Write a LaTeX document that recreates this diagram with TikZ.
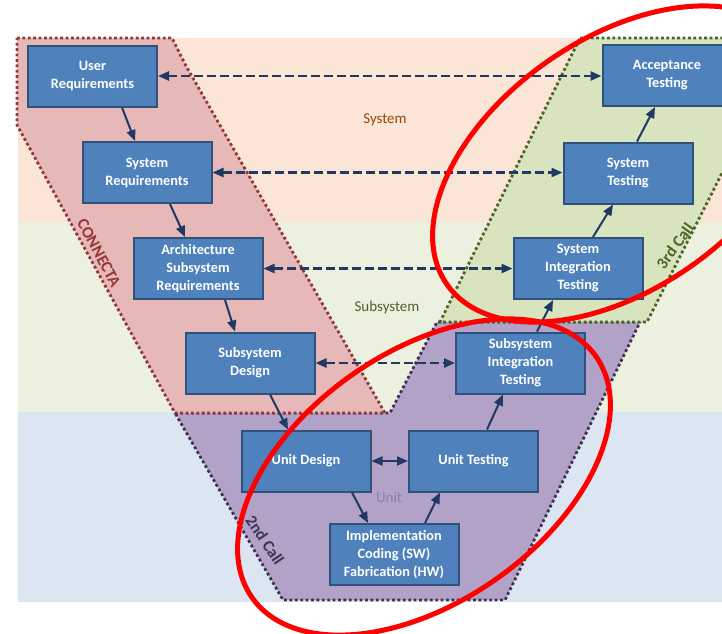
\documentclass[tikz,border=0pt]{standalone}
\usepackage{fontspec}
\setmainfont{Carlito}
\usetikzlibrary{arrows.meta}
\definecolor{peach}{HTML}{FBE5D6}
\definecolor{lgreen}{HTML}{EBF1DE}
\definecolor{lblue}{HTML}{DCE6F2}
\definecolor{pinkfill}{HTML}{E6B9B8}
\definecolor{purfill}{HTML}{B3A2C7}
\definecolor{grnfill}{HTML}{D7E4BD}
\definecolor{pinkline}{HTML}{953735}
\definecolor{grnline}{HTML}{4F6228}
\definecolor{purline}{HTML}{403151}
\definecolor{boxfill}{HTML}{4F81BD}
\definecolor{boxline}{HTML}{30527A}
\definecolor{arrowc}{HTML}{1F3864}
\definecolor{sysc}{HTML}{984807}
\definecolor{unitc}{HTML}{8C7FA8}
\tikzset{
  stepbox/.style={draw=boxline, fill=boxfill, line width=2pt, minimum width=129pt,
    minimum height=61pt, text=white, font=\bfseries\fontsize{14.3}{18}\selectfont,
    align=center, inner sep=0pt},
  arr/.style={draw=arrowc, line width=2pt, -{Triangle[length=11pt,width=9pt]}},
  darr/.style={draw=arrowc, line width=2.4pt, dash pattern=on 9pt off 4pt,
    {Triangle[length=11pt,width=9pt]}-{Triangle[length=11pt,width=9pt]}},
  dotline/.style={line width=2.8pt, dash pattern=on 2.8pt off 2.6pt},
  lvl/.style={font=\fontsize{15}{17}\selectfont},
  callc/.style={font=\bfseries\fontsize{16.5}{18}\selectfont},
  ring/.style={draw=red, line width=5pt}
}
\begin{document}
\begin{tikzpicture}[x=1pt,y=-1pt]
\useasboundingbox (0,0) rectangle (722,633);
\clip (0,0) rectangle (722,633);
\fill[white] (0,0) rectangle (722,633);
% bands
\fill[peach] (18,38) rectangle (722,222);
\fill[lgreen] (18,222) rectangle (722,412);
\fill[lblue] (18,412) rectangle (722,602);
% regions
\fill[purfill] (175,413) -- (390,413) -- (437,322) -- (640,322) -- (505,600) -- (283,600) -- cycle;
\draw[purline,dotline] (175,413) -- (390,413) -- (437,322) -- (640,322) -- (505,600) -- (283,600) -- cycle;
\fill[grnfill] (580,38) -- (790,38) -- (647,322) -- (440,322) -- cycle;
\draw[grnline,dotline] (580,38) -- (790,38) -- (647,322) -- (440,322) -- cycle;
\fill[pinkfill] (17,38) -- (172,38) -- (186,66) -- (385,413) -- (175,413) -- (17,125) -- cycle;
\draw[pinkline,dotline] (17,38) -- (172,38) -- (186,66) -- (385,413) -- (175,413) -- (17,125) -- cycle;
% labels
\node[lvl,text=sysc] (lsys) at (385,120) {System};
\node[lvl,text=grnline] (lsub) at (387,307) {Subsystem};
\node[lvl,text=unitc] (lunit) at (389,497) {Unit};
\node[callc,text=pinkline,rotate=-62] (lcon) at (99,253) {CONNECTA};
\node[callc,text=purline,rotate=-56] (l2nd) at (265,540) {2nd Call};
\node[callc,text=grnline,rotate=54] (l3rd) at (675,246) {3rd Call};
% boxes
\node[stepbox] (ur) at (92.5,76) {User\\Requirements};
\node[stepbox] (sr) at (147,172.5) {System\\Requirements};
\node[stepbox] (ar) at (198,268.5) {Architecture\\Subsystem\\Requirements};
\node[stepbox] (sd) at (250,363) {Subsystem\\Design};
\node[stepbox] (ud) at (306,461) {Unit Design};
\node[stepbox] (ut) at (473.5,461) {Unit Testing};
\node[stepbox] (im) at (394,554.5) {Implementation\\Coding (SW)\\Fabrication (HW)};
\node[stepbox] (sit) at (520.5,363) {Subsystem\\Integration\\Testing};
\node[stepbox] (syit) at (578,268.5) {System\\Integration\\Testing};
\node[stepbox] (st) at (628,173) {System\\Testing};
\node[stepbox] (at) at (667,75.5) {Acceptance\\Testing};
% solid arrows
\draw[arr] ([xshift=29.5pt]ur.south) -- ([xshift=-12pt]sr.north);
\draw[arr] ([xshift=23pt]sr.south) -- ([xshift=-13pt]ar.north);
\draw[arr] ([xshift=27pt]ar.south) -- ([xshift=-15pt]sd.north);
\draw[arr] ([xshift=20pt]sd.south) -- ([xshift=-18pt]ud.north);
\draw[arr] ([xshift=46pt]ud.south) -- ([xshift=-26pt]im.north);
\draw[arr] ([xshift=31pt]im.north) -- ([xshift=-33.5pt]ut.south);
\draw[arr] ([xshift=13.5pt]ut.north) -- ([xshift=-17.5pt]sit.south);
\draw[arr] ([xshift=16.5pt]sit.north) -- ([xshift=-25pt]syit.south);
\draw[arr] ([xshift=15pt]syit.north) -- ([xshift=-15pt]st.south);
\draw[arr] ([xshift=9pt]st.north) -- ([xshift=-12pt]at.south);
% dashed links
\draw[darr] (ur.east) -- (ur.east -| at.west);
\draw[darr] (sr.east) -- (sr.east -| st.west);
\draw[darr] (ar.east) -- (ar.east -| syit.west);
\draw[darr] (sd.east) -- (sd.east -| sit.west);
\draw[draw=arrowc, line width=2pt, {Triangle[length=11pt,width=9pt]}-{Triangle[length=11pt,width=9pt]}] (ud.east) -- (ut.west);
% red rings
\draw[ring, rotate around={35:(619,164)}] (619,164) ellipse [x radius=210, y radius=125];
\draw[ring, rotate around={35:(424,477)}] (424,477) ellipse [x radius=210, y radius=125];
\end{tikzpicture}
\end{document}
